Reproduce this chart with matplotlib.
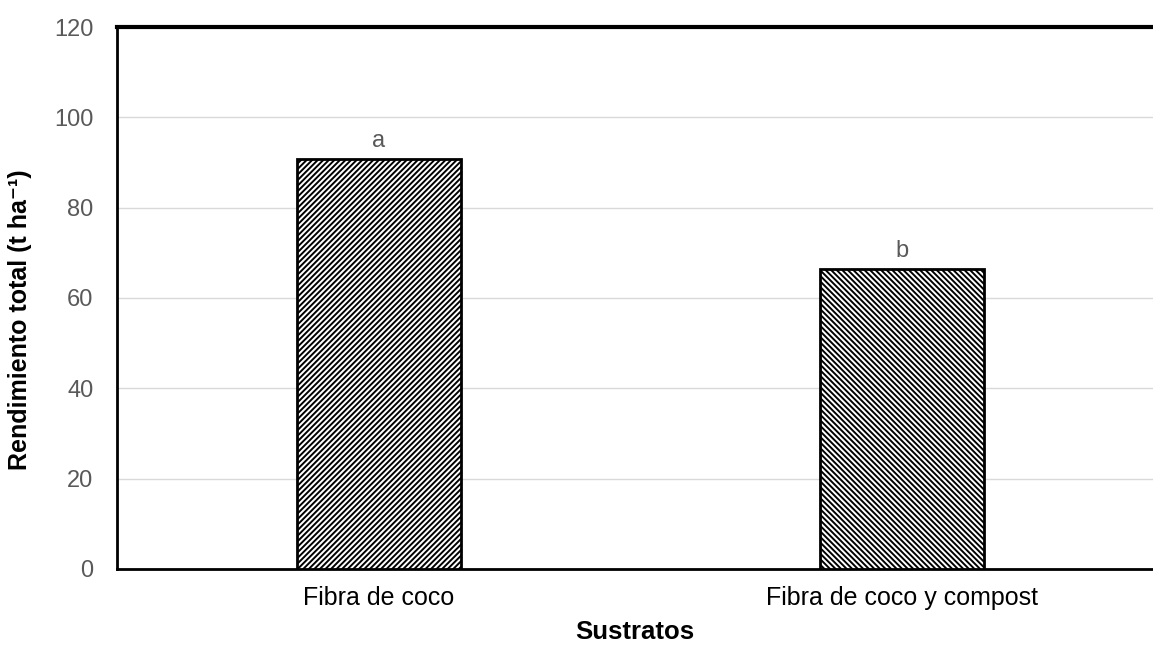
import matplotlib.pyplot as plt
import numpy as np

# Data
sustratos = ['Fibra de coco', 'Fibra de coco y compost']
rendimiento = [90.8, 66.4]
letras = ['a', 'b']
hatches = ['//////', '\\\\\\\\\\\\']

plt.rcParams['font.family'] = ['Liberation Sans', 'DejaVu Sans']
plt.rcParams['hatch.linewidth'] = 1.4

fig = plt.figure(figsize=(11.53, 6.45), dpi=100)
ax = fig.add_axes([0.1015, 0.118, 0.908, 0.840])

x = np.arange(len(sustratos))
bars = ax.bar(x, rendimiento, width=0.313, color='white', edgecolor='black',
              linewidth=2, zorder=3)
for b, h in zip(bars, hatches):
    b.set_hatch(h)

for xi, v, l in zip(x, rendimiento, letras):
    ax.text(xi, v + 1.6, l, ha='center', va='bottom', fontsize=17, color='#595959')

ax.set_xlim(-0.5, 1.5)
ax.set_ylim(0, 120)
ax.set_yticks(range(0, 121, 20))
ax.set_xticks(x)
ax.set_xticklabels(sustratos, fontsize=18, color='black')
ax.tick_params(axis='y', labelsize=17, labelcolor='#595959', length=0, pad=17)
ax.tick_params(axis='x', length=0, pad=12)
ax.grid(axis='y', color='#d9d9d9', linewidth=1, zorder=0)
ax.set_axisbelow(True)

ax.spines['right'].set_visible(False)
ax.spines['top'].set_linewidth(3)
ax.spines['left'].set_linewidth(2)
ax.spines['bottom'].set_linewidth(2)

ax.set_ylabel('Rendimiento total (t ha⁻¹)', fontsize=18, fontweight='bold')
ax.yaxis.set_label_coords(-0.081, 0.46)
ax.set_xlabel('Sustratos', fontsize=18.5, fontweight='bold')
ax.xaxis.set_label_coords(0.495, -0.094)

fig.savefig('out.png', dpi=100)
